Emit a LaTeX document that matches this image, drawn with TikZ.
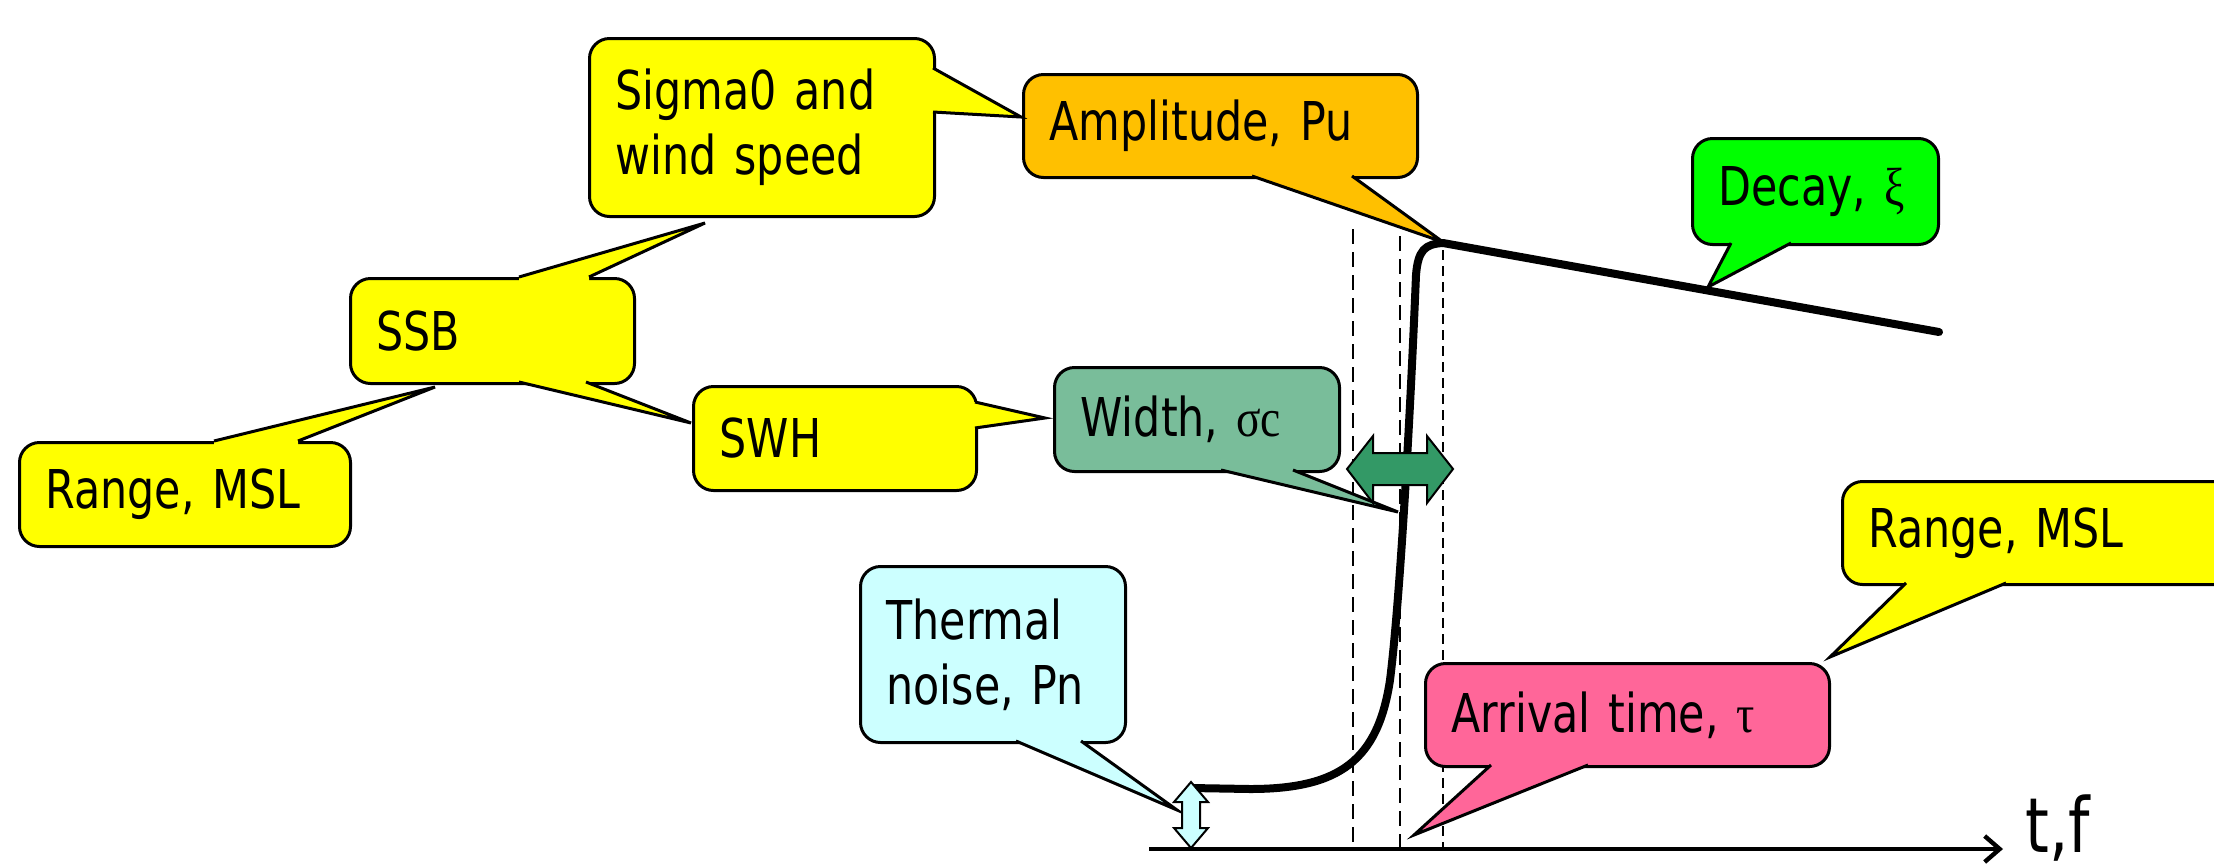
\documentclass[tikz,border=0pt]{standalone}
\usepackage{fontspec}
\setmainfont{DejaVu Sans}[FakeStretch=0.8]
\newfontfamily\grk{Liberation Serif}[FakeStretch=0.85]
\usetikzlibrary{calc,arrows.meta}
\definecolor{yel}{HTML}{FFFF00}
\definecolor{orng}{HTML}{FFC000}
\definecolor{grn}{HTML}{00FF00}
\definecolor{wid}{HTML}{79BD9A}
\definecolor{therm}{HTML}{CCFFFF}
\definecolor{arr}{HTML}{FF6699}
\definecolor{darr}{HTML}{339966}
\newcommand\calltail[5]{%
  \fill[#1] ($#2+#5$) -- #2 -- #3 -- #4 -- ($#4+#5$) -- cycle;
  \draw[tailline] #2 -- #3 -- #4;
}
\begin{document}
\begin{tikzpicture}[x=0.5pt,y=-0.5pt,
  cbox/.style={draw, line width=1.5pt, rounded corners=10pt, anchor=north west,
    inner xsep=13pt, inner ysep=0pt, align=left,
    font=\fontsize{26.75}{32.5}\selectfont},
  tailline/.style={line width=1.5pt, line join=miter},
  guide/.style={line width=1.3pt, dash pattern=on 7.5pt off 4pt},
  guideb/.style={line width=1.3pt, dash pattern=on 5pt off 3pt},
  wave/.style={line width=4pt, line cap=round, line join=round},
]
\useasboundingbox (0,0) rectangle (2214,863);
\clip (0,0) rectangle (2214,863);

% guide lines
\coordinate (g1t) at (1353,229); \coordinate (g1b) at (1353,848);
\coordinate (g2t) at (1400,236); \coordinate (g2b) at (1400,848);
\coordinate (g3t) at (1443,250); \coordinate (g3b) at (1443,848);
\draw[guide] (g1t) -- (g1b);
\draw[guide] (g2t) -- (g2b);
\draw[guideb] (g3t) -- (g3b);

% axis
\coordinate (axL) at (1149,849);
\coordinate (axR) at (2003,849);
\draw[line width=2.2pt, -{Straight Barb[length=7.5pt,width=13pt]}] (axL) -- (axR);
\node[anchor=base west, inner sep=0pt, font=\fontsize{38}{40}\selectfont] (tf) at (2025,852) {t,f};

% waveform
\coordinate (w0) at (1191,788);
\coordinate (peak) at (1443,243);
\coordinate (tailend) at (1939,332);
\draw[wave] (w0) -- (1250,789) .. controls (1340,789) and (1378,760) .. (1390,680)
  .. controls (1400,600) and (1410,420) .. (1416,275)
  .. controls (1418,250) and (1425,244) .. (peak);
\draw[wave] (peak) -- (tailend);

% boxes
\node[cbox, fill=yel, text width=146.5pt, minimum height=89pt] (sig) at (588,37) {Sigma0 and\\wind speed};
\node[cbox, fill=orng, text width=171pt, minimum height=51.5pt] (amp) at (1022,73) {Amplitude, Pu};
\node[cbox, fill=grn, text width=97pt, minimum height=53pt] (dec) at (1691,137) {Decay, {\grk ξ}};
\node[cbox, fill=yel, text width=116pt, minimum height=52.5pt] (ssb) at (349,277) {SSB};
\node[cbox, fill=yel, text width=139.5pt, minimum height=52pt] (rngl) at (18,441) {Range, MSL};
\node[cbox, fill=yel, text width=115.5pt, minimum height=52pt] (swh) at (692,385) {SWH};
\node[cbox, fill=wid, text width=116.5pt, minimum height=52pt] (wdt) at (1053,366) {Width, {\grk σc}};
\node[cbox, fill=therm, text width=106.5pt, minimum height=88pt] (thm) at (859,565) {Thermal\\noise, Pn};
\node[cbox, fill=arr, text width=176pt, minimum height=51.5pt] (arv) at (1424,662) {Arrival time, {\grk τ}};
\node[cbox, fill=yel, text width=184pt, minimum height=51.5pt] (rngr) at (1841,480) {Range, MSL};

% tails
\coordinate (tSig) at (1021,117);
\coordinate (tAmp) at (1443,242);
\coordinate (tDec) at (1708,287);
\coordinate (tSsbA) at (705,223);
\coordinate (tSsbB) at (691,423);
\coordinate (tRngl) at (435,387);
\coordinate (tSwh) at (1045,418);
\coordinate (tWdt) at (1398,512);
\coordinate (tThm) at (1177,810);
\coordinate (tArv) at (1414,835);
\coordinate (tRngr) at (1830,657);

\calltail{yel}{(933,68)}{(tSig)}{(933,112)}{(-6,0)}
\calltail{orng}{(1252,176)}{(tAmp)}{(1352,176)}{(0,-6)}
\calltail{grn}{(1731,243)}{(tDec)}{(1791,243)}{(0,-6)}
\calltail{yel}{(519,277)}{(tSsbA)}{(589,277)}{(0,6)}
\calltail{yel}{(519,382)}{(tSsbB)}{(586,382)}{(0,-6)}
\calltail{yel}{(214,441)}{(tRngl)}{(298,441)}{(0,6)}
\calltail{yel}{(975,402)}{(tSwh)}{(975,428)}{(-6,0)}
\calltail{wid}{(1221,470)}{(tWdt)}{(1293,470)}{(0,-6)}
\calltail{therm}{(1016,741)}{(tThm)}{(1081,741)}{(0,-6)}
\calltail{arr}{(1491,765)}{(tArv)}{(1588,765)}{(0,-6)}
\calltail{yel}{(1906,583)}{(tRngr)}{(2006,583)}{(0,-6)}

% width double arrow
\draw[fill=darr, line width=1pt, line join=miter] (1347,469) -- (1373,436) -- (1373,453) -- (1427,453)
  -- (1427,436) -- (1453,469) -- (1427,503) -- (1427,485) -- (1373,485) -- (1373,503) -- cycle;

% noise double arrow
\draw[fill=therm, line width=1pt, line join=miter] (1191,782) -- (1208,802) -- (1200,802) -- (1200,828)
  -- (1208,828) -- (1191,848) -- (1174,828) -- (1182,828) -- (1182,802) -- (1174,802) -- cycle;
\end{tikzpicture}
\end{document}
